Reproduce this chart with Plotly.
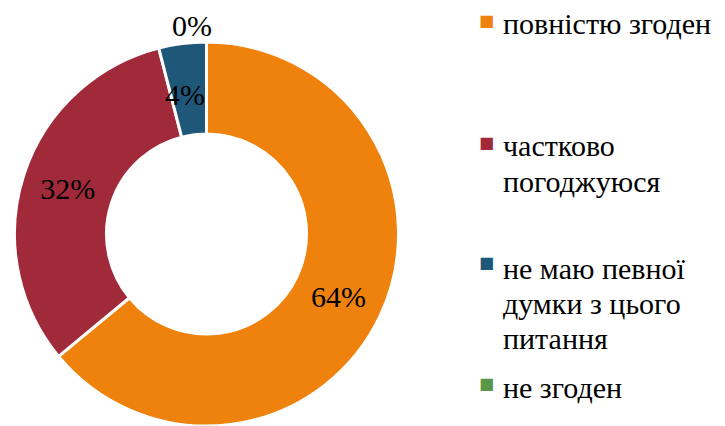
import math
import plotly.graph_objects as go

categories = ["повністю згоден", "частково погоджуюся", "не маю певної думки з цього питання", "не згоден"]
legend_lines = [["повністю згоден"], ["частково", "погоджуюся"], ["не маю певної", "думки з цього", "питання"], ["не згоден"]]
values = [64, 32, 4, 0]
colors = ["#EF820D", "#A12A3A", "#1F5779", "#5A9648"]

W, H = 725, 426
FONT = "Liberation Serif"
FS = 30

cx, cy, R = 206.5, 234.0, 192.0
hole_r = 100.0
small = 10  # slices below this percent get their label drawn as an annotation (keeps full font size)

total = sum(values)
texts = [f"{v}%" if v >= small else "" for v in values]

fig = go.Figure(go.Pie(
    labels=categories,
    values=values,
    text=texts,
    textinfo="text",
    textposition="inside",
    insidetextorientation="horizontal",
    sort=False,
    direction="clockwise",
    rotation=0,
    hole=hole_r / R,
    marker=dict(colors=colors, line=dict(color="white", width=3)),
    textfont=dict(family=FONT, size=FS, color="black"),
    domain=dict(x=[(cx - R) / W, (cx + R) / W], y=[(H - cy - R) / H, (H - cy + R) / H]),
    showlegend=False,
    hoverinfo="label+percent",
))

annotations = []
cum = 0
for v in values:
    if 0 < v < small:
        th = 2 * math.pi * (cum + v / 2) / total
        r = 141
        annotations.append(dict(x=(cx + r * math.sin(th) - 4) / W, y=(H - (cy - r * math.cos(th))) / H,
                                xref="paper", yref="paper", text=f"{v}%", showarrow=False,
                                xanchor="center", yanchor="middle",
                                font=dict(family=FONT, size=FS, color="black")))
    elif v == 0:
        annotations.append(dict(x=(cx - 15) / W, y=(H - 26) / H, xref="paper", yref="paper",
                                text=f"{v}%", showarrow=False, xanchor="center", yanchor="middle",
                                font=dict(family=FONT, size=FS, color="black")))
    cum += v

# custom legend: coloured square glyph + wrapped label lines
line_mid = [[23], [145, 181], [268, 303, 338], [387]]
marker_mid = [20, 142, 262, 383]
for i, lines in enumerate(legend_lines):
    for j, ln in enumerate(lines):
        annotations.append(dict(x=501 / W, y=(H - line_mid[i][j]) / H, xref="paper", yref="paper",
                                text=ln, showarrow=False, xanchor="left", yanchor="middle",
                                font=dict(family=FONT, size=FS, color="black")))
    annotations.append(dict(x=486.5 / W, y=(H - marker_mid[i]) / H, xref="paper", yref="paper",
                            text="■", showarrow=False, xanchor="center", yanchor="middle",
                            font=dict(family="DejaVu Sans", size=16, color=colors[i])))

fig.update_layout(
    width=W, height=H,
    margin=dict(l=0, r=0, t=0, b=0),
    font=dict(family=FONT, size=FS, color="black"),
    annotations=annotations,
)

fig.write_html("out.html", config={"displayModeBar": False},
               post_script="document.body.style.margin='0';document.body.style.overflow='hidden';")
